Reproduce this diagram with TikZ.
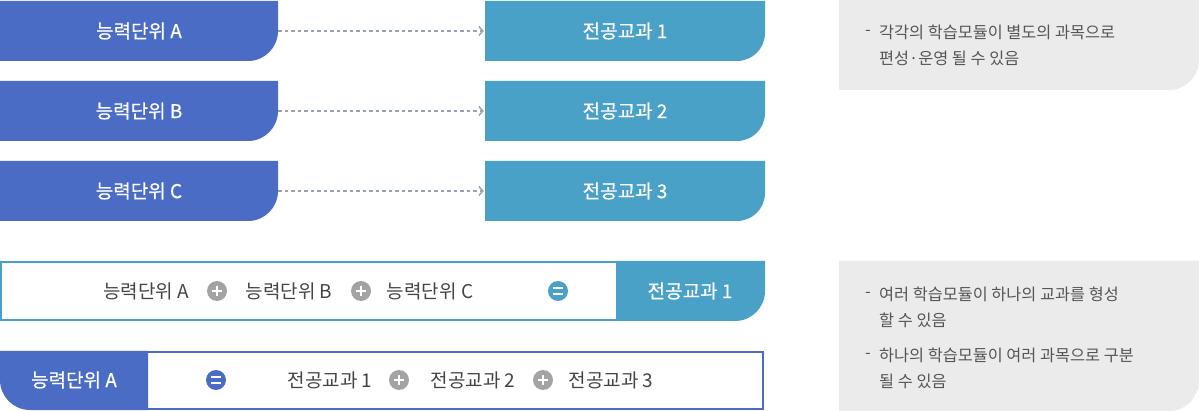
\documentclass[tikz,border=0pt]{standalone}
\usepackage{fontspec}
\setmainfont{Noto Sans CJK KR}
\newfontfamily\medfont[FakeBold=0.6]{Noto Sans CJK KR}
\usetikzlibrary{arrows.meta}
\definecolor{cblue}{HTML}{4A6CC4}
\definecolor{cteal}{HTML}{4AA1C7}
\definecolor{cgray}{HTML}{EBEBEB}
\definecolor{ctext}{HTML}{444444}
\definecolor{cnote}{HTML}{555555}
\definecolor{carrow}{HTML}{97A3AF}
\definecolor{cicon}{HTML}{A3A3A3}
\tikzset{
  boxlabel/.style={inner sep=0pt, text=white, font=\medfont\fontsize{19}{22}\selectfont},
  rowlabel/.style={inner sep=0pt, text=ctext, font=\fontsize{19}{22}\selectfont},
  slot/.style={inner sep=0pt, minimum width=#1, minimum height=60pt},
  notetext/.style={inner sep=0pt, anchor=west, align=left, text=cnote, font=\fontsize{16.3}{26}\selectfont},
  notedash/.style={inner sep=0pt, text=cnote, font=\fontsize{16.3}{26}\selectfont},
  flow/.style={carrow, line width=1.4pt, dash pattern=on 3.5pt off 3pt, -{Straight Barb[length=4pt,width=9pt,line width=1.4pt]}},
  plusicon/.style={circle, fill=cicon, minimum size=20pt, inner sep=0pt,
    path picture={\draw[white,line width=2.2pt] ([xshift=-5pt]path picture bounding box.center) -- ([xshift=5pt]path picture bounding box.center);
                  \draw[white,line width=2.2pt] ([yshift=-5pt]path picture bounding box.center) -- ([yshift=5pt]path picture bounding box.center);}},
  eqicon/.style={circle, fill=#1, minimum size=20pt, inner sep=0pt,
    path picture={\draw[white,line width=2pt] ([xshift=-5pt,yshift=-2.6pt]path picture bounding box.center) -- ([xshift=5pt,yshift=-2.6pt]path picture bounding box.center);
                  \draw[white,line width=2pt] ([xshift=-5pt,yshift=2.6pt]path picture bounding box.center) -- ([xshift=5pt,yshift=2.6pt]path picture bounding box.center);}},
}
\begin{document}
\begin{tikzpicture}[x=1pt,y=-1pt]
\useasboundingbox (0,0) rectangle (1199,411);

% top-left blue boxes and teal boxes
\foreach \yy in {1,81,161}{
  \fill[cblue] (0,\yy) -- (278,\yy) -- (278,\yy+30) arc[start angle=0,end angle=90,radius=30] -- (0,\yy+60) -- cycle;
  \fill[cteal] (485,\yy) -- (765,\yy) -- (765,\yy+32) arc[start angle=0,end angle=90,radius=28] -- (485,\yy+60) -- cycle;
}
\node[slot=278pt] (ua) at (139,31) {};
\node[slot=278pt] (ub) at (139,111) {};
\node[slot=278pt] (uc) at (139,191) {};
\node[slot=280pt] (sa) at (625,31) {};
\node[slot=280pt] (sb) at (625,111) {};
\node[slot=280pt] (sc) at (625,191) {};
\node[boxlabel] at (ua.center) {능력단위 A};
\node[boxlabel] at (ub.center) {능력단위 B};
\node[boxlabel] at (uc.center) {능력단위 C};
\node[boxlabel] at (sa.center) {전공교과 1};
\node[boxlabel] at (sb.center) {전공교과 2};
\node[boxlabel] at (sc.center) {전공교과 3};
\draw[flow] (ua.east) -- ([xshift=-1pt]sa.west);
\draw[flow] (ub.east) -- ([xshift=-1pt]sb.west);
\draw[flow] (uc.east) -- ([xshift=-1pt]sc.west);

% note boxes
\fill[cgray] (839,0) -- (1199,0) -- (1199,60) arc[start angle=0,end angle=90,radius=30] -- (839,90) -- cycle;
\fill[cgray] (839,261) -- (1199,261) -- (1199,381) arc[start angle=0,end angle=90,radius=30] -- (839,411) -- cycle;
\node[notedash] at (868,33) {-};
\node[notetext] at (879,45.5) {각각의 학습모듈이 별도의 과목으로\\편성·운영 될 수 있음};
\node[notedash] at (868,295) {-};
\node[notetext] at (879,307.5) {여러 학습모듈이 하나의 교과를 형성\\할 수 있음};
\node[notedash] at (868,356) {-};
\node[notetext] at (879,368) {하나의 학습모듈이 여러 과목으로 구분\\될 수 있음};

% row 4
\draw[cteal, line width=2pt] (1,262) rectangle (617,320);
\fill[cteal] (616,261) -- (765,261) -- (765,291) arc[start angle=0,end angle=90,radius=30] -- (616,321) -- cycle;
\node[rowlabel] (r4a) at (146,291) {능력단위 A};
\node[plusicon] (r4p1) at (217,291) {};
\node[rowlabel] (r4b) at (289,291) {능력단위 B};
\node[plusicon] (r4p2) at (361,291) {};
\node[rowlabel] (r4c) at (430,291) {능력단위 C};
\node[eqicon=cteal] (r4e) at (558,291) {};
\node[boxlabel] (r4s) at (690,291) {전공교과 1};

% row 5
\draw[cblue, line width=2pt] (147,352) rectangle (763,409);
\fill[cblue] (0,351) -- (148,351) -- (148,410) -- (30,410) arc[start angle=90,end angle=180,radius=30] -- cycle;
\node[boxlabel] (r5u) at (74,380) {능력단위 A};
\node[eqicon=cblue] (r5e) at (216,380) {};
\node[rowlabel] (r5a) at (330,380) {전공교과 1};
\node[plusicon] (r5p1) at (399,380) {};
\node[rowlabel] (r5b) at (473,380) {전공교과 2};
\node[plusicon] (r5p2) at (543,380) {};
\node[rowlabel] (r5c) at (611,380) {전공교과 3};
\end{tikzpicture}
\end{document}
